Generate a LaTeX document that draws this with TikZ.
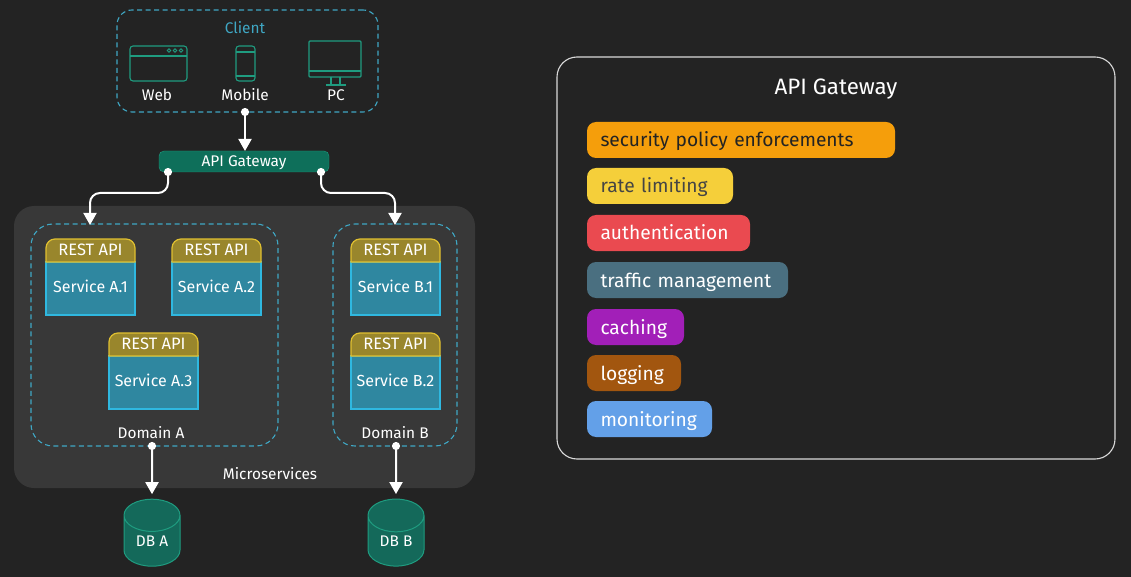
\documentclass[tikz,border=0pt]{standalone}
\usepackage{fontspec}
\setmainfont{Fira Sans}
\usetikzlibrary{arrows.meta,shapes.geometric}
\definecolor{bgdark}{HTML}{232323}
\definecolor{panelgrey}{HTML}{383838}
\definecolor{dashblue}{HTML}{3FA7C4}
\definecolor{tealline}{HTML}{1F9C80}
\definecolor{tealfill}{HTML}{0E6F5A}
\definecolor{dbfill}{HTML}{14695A}
\definecolor{restfill}{HTML}{99862C}
\definecolor{restline}{HTML}{E0C030}
\definecolor{servfill}{HTML}{2F87A0}
\definecolor{servline}{HTML}{2FB8E0}
\newcommand{\servicebox}[4]{
  \node[service,anchor=north west] (#1) at (#2,#3+23) {#4};
  \draw[rest] (#2,#3+23) [rounded corners=9] -- (#2,#3) -- (#2+89,#3) [sharp corners] -- (#2+89,#3+23) -- cycle;
  \node[label text,font=\fontsize{16.5}{18}\selectfont] (#1_api) at (#2+44.5,#3+11) {REST API};
}
\begin{document}
\begin{tikzpicture}[x=1pt,y=-1pt]
    \tikzstyle{label text}=[text=white,font=\fontsize{15.4}{17}\selectfont,inner sep=0pt,outer sep=0pt,text height=13pt,text depth=2pt]
    \tikzstyle{service}=[draw=servline,fill=servfill,line width=1.2pt,minimum width=89pt,minimum height=53pt,inner sep=0pt,outer sep=0pt,label text,font=\fontsize{16}{18}\selectfont,text height=10pt,text depth=3pt]
    \tikzstyle{rest}=[draw=restline,fill=restfill,line width=1.2pt]
    \tikzstyle{dashbox}=[draw=dashblue,line width=1.1pt,dash pattern=on 5pt off 3.5pt,inner sep=0pt,outer sep=0pt,anchor=north west]
    \tikzstyle{icon}=[draw=tealline,line width=1.1pt]
    \tikzstyle{db}=[shape=cylinder,shape border rotate=90,aspect=1.0,draw=tealline,fill=dbfill,line width=1pt,minimum width=56pt,minimum height=67pt,inner sep=0pt,outer sep=0pt,label text]
    \tikzstyle{link}=[{Circle[length=8pt,width=8pt]}-{Triangle[length=12pt,width=13pt]},white,line width=2pt,shorten <=-4pt]
    \tikzstyle{pill}=[rounded corners=9pt,anchor=north west,minimum height=36pt,inner xsep=13.5pt,inner ysep=0pt,outer sep=0pt,align=left,font=\fontsize{19.2}{21}\selectfont,text height=16pt,text depth=2pt]
    % page and grey panels
    \fill[bgdark] (0,0) rectangle (1131,577);
    \node[fill=panelgrey,rounded corners=20pt,minimum width=461pt,minimum height=282pt,inner sep=0pt,outer sep=0pt,anchor=north west] (micro) at (14,206) {};
    % client
    \node[dashbox,rounded corners=15pt,minimum width=261pt,minimum height=102pt] (client) at (117,10) {};
    \node[label text,text=dashblue] (client_t) at (245,28) {Client};
    \draw[icon,rounded corners=3pt] (130,46) rectangle (187,81);
    \draw[icon] (130,56) -- (187,56);
    \foreach \dotx in {169,175,181} \draw[icon,line width=0.8pt] (\dotx,50.5) circle (1.8pt);
    \draw[icon,rounded corners=3pt] (236,46) rectangle (255,81);
    \draw[icon] (236,52) -- (255,52);
    \draw[icon] (236,76) -- (255,76);
    \draw[icon,rounded corners=1pt] (309,41) rectangle (361,77);
    \draw[icon] (309,71) -- (361,71);
    \draw[icon] (331,77) -- (331,85);
    \draw[icon] (340,77) -- (340,85);
    \draw[icon] (326,85) -- (346,85);
    \node[label text] (web) at (157,95) {Web};
    \node[label text] (mobile) at (245,95) {Mobile};
    \node[label text] (pc) at (336,95) {PC};
    % gateway
    \node[draw=tealline,fill=tealfill,rounded corners=5pt,minimum width=170pt,minimum height=21pt,inner sep=0pt,outer sep=0pt,anchor=north west,label text] (gateway) at (159,151) {API Gateway};
    % domains
    \node[dashbox,rounded corners=22pt,minimum width=247pt,minimum height=222pt] (domain_a) at (31,224) {};
    \node[dashbox,rounded corners=22pt,minimum width=124pt,minimum height=222pt] (domain_b) at (333,224) {};
    \servicebox{S_A1}{46}{239}{Service A.1}
    \servicebox{S_A2}{172}{239}{Service A.2}
    \servicebox{S_A3}{109}{333}{Service A.3}
    \servicebox{S_B1}{351}{239}{Service B.1}
    \servicebox{S_B2}{351}{333}{Service B.2}
    \node[label text] (domain_a_t) at (151,433) {Domain A};
    \node[label text] (domain_b_t) at (395,433) {Domain B};
    \node[label text] (micro_t) at (270,474) {Microservices};
    % databases
    \node[db] (DB_A) at (152,541) {DB A};
    \node[db] (DB_B) at (396,541) {DB B};
    % links
    \coordinate (cl_out) at (245,112);
    \coordinate (gw_in) at (245,151);
    \coordinate (gw_l) at (168,172);
    \coordinate (gw_r) at (321,172);
    \coordinate (dom_a_in) at (90,225);
    \coordinate (dom_b_in) at (395,225);
    \coordinate (dom_a_out) at (152,446);
    \coordinate (dom_b_out) at (396,446);
    \draw[link] (cl_out) -- (gw_in);
    \draw[link,rounded corners=10pt] (gw_l) |- (90,193) -- (dom_a_in);
    \draw[link,rounded corners=10pt] (gw_r) |- (395,193) -- (dom_b_in);
    \draw[link,shorten >=5pt] (dom_a_out) -- (DB_A.north);
    \draw[link,shorten >=5pt] (dom_b_out) -- (DB_B.north);
    % right panel
    \node[draw=white!85!black,rounded corners=20pt,line width=1.1pt,minimum width=558pt,minimum height=402pt,inner sep=0pt,outer sep=0pt,anchor=north west] (features) at (557,57) {};
    \node[text=white,font=\fontsize{22.3}{24}\selectfont,inner sep=0pt] (features_t) at (836,89) {API Gateway};
    \node[pill,fill={rgb,255:red,245;green,158;blue,11},text=bgdark,text width=281pt] (P_1) at (587,122) {security policy enforcements};
    \node[pill,fill={rgb,255:red,245;green,207;blue,58},text=bgdark!85!white,text width=119pt] (P_2) at (587,168) {rate limiting};
    \node[pill,fill={rgb,255:red,234;green,74;blue,80},text=white,text width=136pt] (P_3) at (587,215) {authentication};
    \node[pill,fill={rgb,255:red,74;green,111;blue,128},text=white,text width=174pt] (P_4) at (587,262) {traffic management};
    \node[pill,fill={rgb,255:red,162;green,31;blue,184},text=white,text width=70pt] (P_5) at (587,309) {caching};
    \node[pill,fill={rgb,255:red,162;green,86;blue,15},text=white,text width=67pt] (P_6) at (587,355) {logging};
    \node[pill,fill={rgb,255:red,99;green,160;blue,232},text=white,text width=98pt] (P_7) at (587,401) {monitoring};
\end{tikzpicture}
\end{document}
